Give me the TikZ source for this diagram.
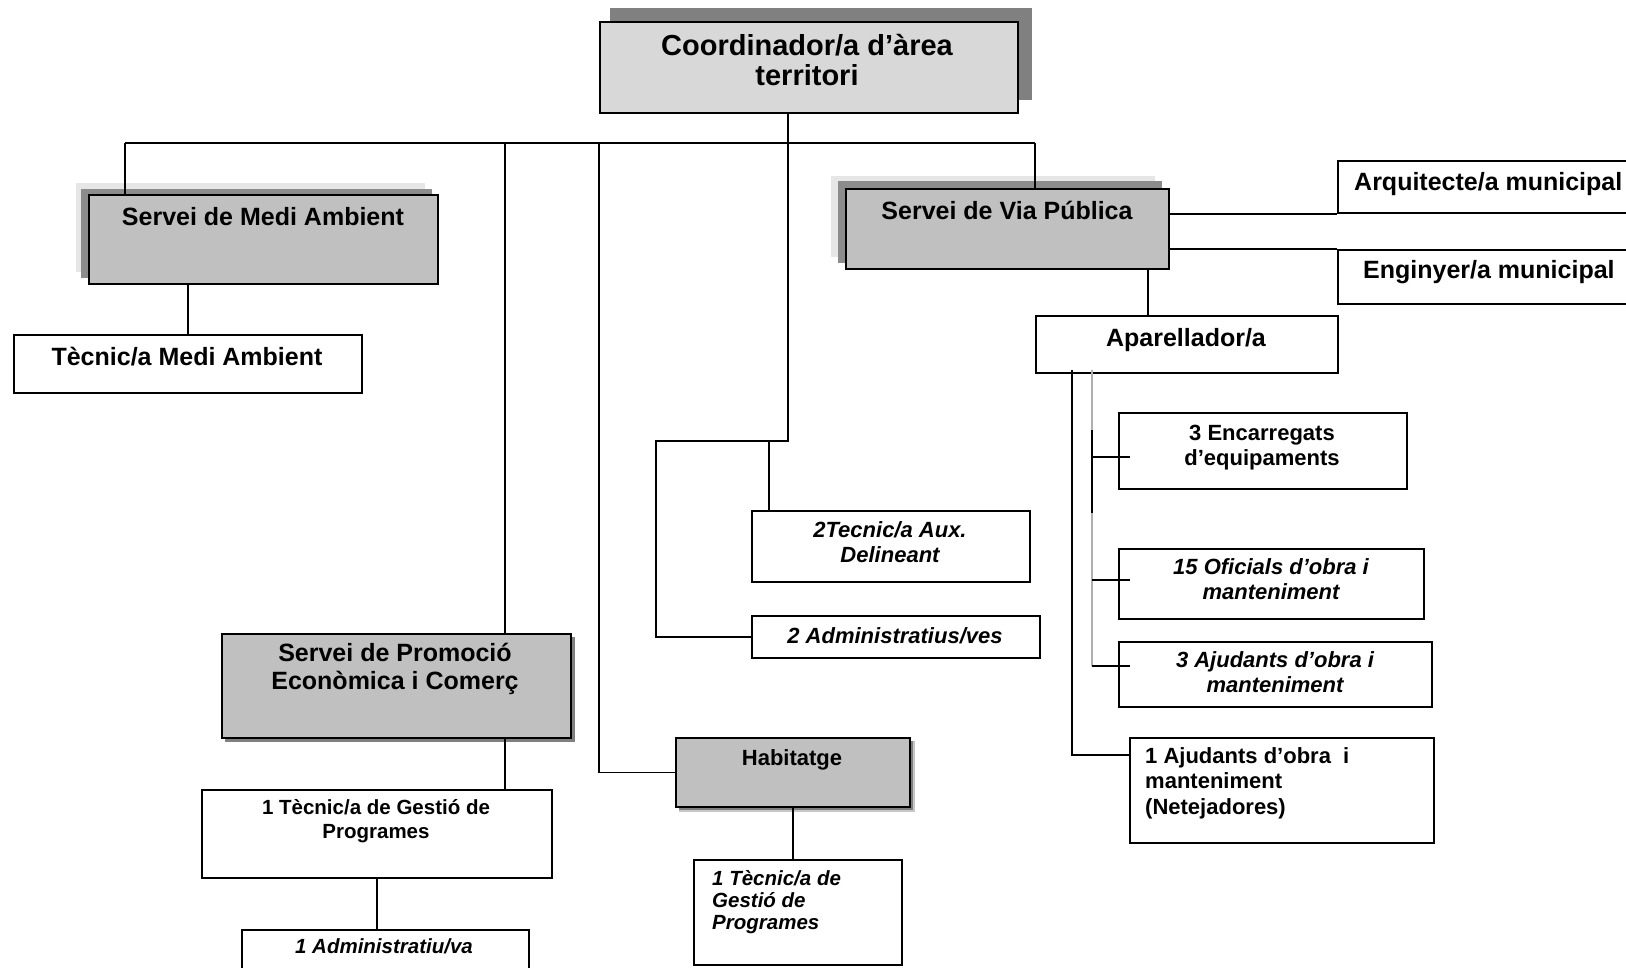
\documentclass[tikz,border=0pt]{standalone}
\usepackage{fontspec}
\setmainfont{Liberation Sans}
\usetikzlibrary{calc}
\definecolor{coordfill}{HTML}{D8D8D8}
\definecolor{svcfill}{HTML}{C0C0C0}
\definecolor{shdark}{HTML}{808080}
\definecolor{shmid}{HTML}{8C8C8C}
\definecolor{shlight}{HTML}{E6E6E6}
\definecolor{trunkgray}{HTML}{B0B0B0}
\tikzset{
  box/.style={draw=black, line width=1.9pt, fill=white, rectangle, inner sep=0pt, anchor=north west},
  svc/.style={box, fill=svcfill},
  ln/.style={draw=black, line width=1.9pt},
  lngray/.style={draw=trunkgray, line width=1.9pt},
  txt/.style={inner sep=0pt, anchor=base, font=\bfseries},
  txtl/.style={inner sep=0pt, anchor=base west, font=\bfseries},
}
\newcommand\fsBig{\fontsize{25}{28}\selectfont}
\newcommand\fsMid{\fontsize{22}{25.5}\selectfont}
\newcommand\fsSml{\fontsize{20.5}{24}\selectfont}
\begin{document}
\begin{tikzpicture}[x=1pt,y=-1pt]
\useasboundingbox (0,0) rectangle (1626,968);
\clip (0,0) rectangle (1626,968);
\fill[white] (0,0) rectangle (1626,968);

% shadows
\fill[shdark] (610,8) rectangle (1032,100);
\fill[shlight] (76,183) rectangle (425,272);
\fill[shmid] (81,189) rectangle (432,278);
\fill[shlight] (831,176) rectangle (1155,257);
\fill[shmid] (838,181) rectangle (1162,263);
\fill[shdark] (225,637) rectangle (575,742);
\fill[shlight!70!shdark] (679,741) rectangle (915,812);
\fill[shdark] (679,741) rectangle (913,810);

% boxes
\node[box, fill=coordfill, minimum width=418pt, minimum height=91pt] (coord) at (599,21) {};
\node[svc, minimum width=349pt, minimum height=89pt] (med) at (88,194) {};
\node[box, minimum width=348pt, minimum height=58pt] (tma) at (13,334) {};
\node[svc, minimum width=323pt, minimum height=80pt] (via) at (845,188) {};
\node[box, minimum width=330pt, minimum height=52pt] (arq) at (1337,160) {};
\node[box, minimum width=330pt, minimum height=54pt] (eng) at (1337,249) {};
\node[box, minimum width=302pt, minimum height=57pt] (apa) at (1035,315) {};
\node[box, minimum width=288pt, minimum height=76pt] (enc) at (1118,412) {};
\node[box, minimum width=305pt, minimum height=70pt] (ofi) at (1118,548) {};
\node[box, minimum width=313pt, minimum height=65pt] (aj3) at (1118,641) {};
\node[box, minimum width=304pt, minimum height=105pt] (aj1) at (1129,737) {};
\node[box, minimum width=278pt, minimum height=71pt] (del) at (751,510) {};
\node[box, minimum width=288pt, minimum height=42pt] (adm) at (751,615) {};
\node[svc, minimum width=349pt, minimum height=104pt] (pro) at (221,633) {};
\node[box, minimum width=350pt, minimum height=88pt] (tgp) at (201,789) {};
\node[box, minimum width=287pt, minimum height=70pt] (ad1) at (241,929) {};
\node[svc, minimum width=234pt, minimum height=69pt] (hab) at (675,737) {};
\node[box, minimum width=208pt, minimum height=105pt] (htg) at (693,859) {};

% texts
\node[txt, font=\bfseries\fontsize{29}{30}\selectfont] (tcoord) at (807,56) {\parbox[t]{400pt}{\centering Coordinador/a d’àrea\\territori}};
\node[txt, font=\bfseries\fsBig] (tmed) at (263,226) {Servei de Medi Ambient};
\node[txt, font=\bfseries\fsBig] (ttma) at (187,366) {Tècnic/a Medi Ambient};
\node[txt, font=\bfseries\fsBig] (tvia) at (1007,220) {Servei de Via Pública};
\node[txtl, font=\bfseries\fsBig] (tarq) at (1354,191) {Arquitecte/a municipal};
\node[txtl, font=\bfseries\fsBig] (teng) at (1363,279) {Enginyer/a municipal};
\node[txt, font=\bfseries\fsBig] (tapa) at (1186,347) {Aparellador/a};
\node[txt, font=\bfseries\fsMid] (tenc) at (1262,440) {\parbox[t]{280pt}{\centering 3 Encarregats\\d’equipaments}};
\node[txt, font=\bfseries\itshape\fsMid] (tofi) at (1271,574) {\parbox[t]{300pt}{\centering 15 Oficials d’obra i\\manteniment}};
\node[txt, font=\bfseries\itshape\fsMid] (taj3) at (1275,667) {\parbox[t]{300pt}{\centering 3 Ajudants d’obra i\\manteniment}};
\node[txtl, font=\bfseries\fsMid] (taj1) at (1145,763) {\parbox[t]{285pt}{\raggedright 1 Ajudants d’obra \ i\\manteniment\\(Netejadores)}};
\node[txt, font=\bfseries\itshape\fsMid] (tdel) at (890,537) {\parbox[t]{270pt}{\centering 2Tecnic/a Aux.\\Delineant}};
\node[txt, font=\bfseries\itshape\fsMid] (tadm) at (895,643) {2 Administratius/ves};
\node[txt, font=\bfseries\fsBig] (tpro) at (395,661) {\parbox[t]{340pt}{\centering Servei de Promoció\\Econòmica i Comerç}};
\node[txt, font=\bfseries\fsSml] (ttgp) at (376,814) {\parbox[t]{340pt}{\centering 1 Tècnic/a de Gestió de\\Programes}};
\node[txt, font=\bfseries\itshape\fsSml] (tad1) at (384,953) {1 Administratiu/va};
\node[txt, font=\bfseries\fsMid] (thab) at (792,765) {Habitatge};
\node[txtl, font=\bfseries\itshape\fontsize{20.5}{22}\selectfont] (thtg) at (712,885) {\parbox[t]{190pt}{\raggedright 1 Tècnic/a de\\Gestió de\\Programes}};

% bus and connectors
\coordinate (bL) at (125,143);
\coordinate (bR) at (1035,143);
\coordinate (bP) at (505,143);
\coordinate (bH) at (599,143);
\coordinate (cT) at (788,143);
\coordinate (kn) at (788,441);
\coordinate (kl) at (656,441);
\coordinate (kd) at (769,441);
\draw[ln] (bL) -- (bR);
\draw[ln] (bL) -- (bL |- med.north);
\draw[ln] (bR) -- (bR |- via.north);
\draw[ln] (bP) -- (bP |- pro.north);
\draw[ln] (bH) |- (hab.west);
\draw[ln] (cT |- coord.south) -- (kn) -- (kl) |- (adm.west);
\draw[ln] (kd) -- (kd |- del.north);

\draw[ln] (tma.north |- med.south) -- (tma.north);
\draw[ln] (via.east |- arq.south) -- (arq.south west);
\draw[ln] (via.east |- eng.north) -- (eng.north west);
\coordinate (va) at (1148,268);
\draw[ln] (va) -- (va |- apa.north);

\draw[ln] (bP |- pro.south) -- (bP |- tgp.north);
\draw[ln] (tgp.south) -- (tgp.south |- ad1.north);
\draw[ln] (hab.south) -- (hab.south |- htg.north);

% Aparellador subtree
\coordinate (t1) at (1072,370);
\coordinate (t2) at (1092,370);
\coordinate (ja1) at ($(aj1.north west)+(0,18)$);
\draw[ln] (t1) |- (ja1);
\coordinate (je) at ($(enc.north west)+(12,45)$);
\coordinate (jo) at ($(ofi.north west)+(12,32)$);
\coordinate (jq) at ($(aj3.north west)+(12,25)$);
\draw[lngray] (t2) -- (1092,430);
\draw[ln] (1092,430) -- (1092,513);
\draw[lngray] (1092,513) -- (t2 |- jq);
\draw[ln] (t2 |- je) -- (je);
\draw[ln] (t2 |- jo) -- (jo);
\draw[ln] (t2 |- jq) -- (jq);
\end{tikzpicture}
\end{document}
